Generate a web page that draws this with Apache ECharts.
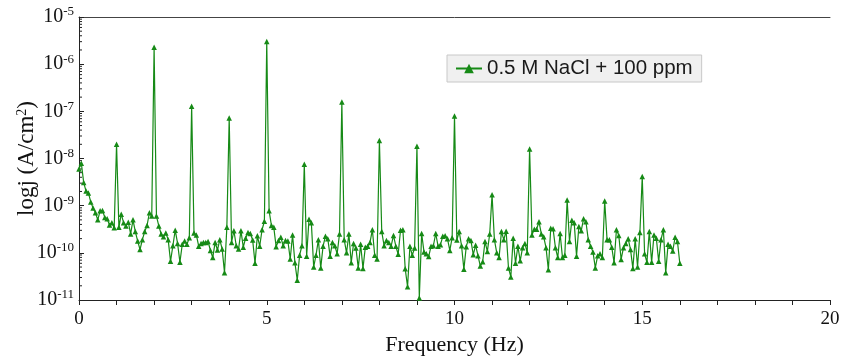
<!DOCTYPE html>
<html>
<head>
<meta charset="utf-8">
<script src="https://cdn.jsdelivr.net/npm/echarts@6/dist/echarts.min.js"></script>
<style>
  html, body { margin: 0; padding: 0; background: #fff; }
  #chart { width: 844px; height: 356px; }
</style>
</head>
<body>
<div id="chart"></div>
<script>
// Spectrum of the current noise: log10 of current density (A/cm^2),
// sampled every 1/16 Hz from 0 to 16 Hz, stored in 4 Hz blocks.
const df = 1 / 16;
const seriesName = '0.5 M NaCl + 100 ppm';

// 0 – 3.9375 Hz
const logJ_0to4 = [
  -8.22, -8.10, -8.51, -8.69, -8.73, -8.92, -9.05, -9.15, -9.30, -9.11, -9.10, -9.25, -9.28, -9.41, -9.36, -9.47,
  -7.70, -9.46, -9.18, -9.36, -9.43, -9.35, -9.60, -9.30, -9.55, -9.75, -9.93, -9.72, -9.55, -9.42, -9.15, -9.22,
  -5.64, -9.22, -9.43, -9.60, -9.66, -9.58, -9.72, -10.18, -9.85, -9.52, -9.80, -10.20, -9.82, -9.75, -9.82, -9.68,
  -6.89, -9.58, -9.62, -9.86, -9.80, -9.78, -9.78, -9.76, -9.95, -10.10, -9.78, -9.94, -9.72, -9.92, -10.42, -9.46
];
// 4 – 7.9375 Hz
const logJ_4to8 = [
  -7.14, -9.78, -9.53, -9.85, -9.92, -9.53, -9.88, -9.69, -9.57, -9.59, -9.73, -10.22, -9.64, -9.86, -9.51, -9.33,
  -5.52, -9.11, -9.42, -9.46, -9.87, -9.74, -9.67, -9.85, -9.74, -9.75, -10.13, -9.62, -10.21, -10.58, -10.05, -9.85,
  -8.12, -10.07, -9.29, -9.36, -10.30, -10.05, -9.72, -10.32, -9.86, -9.65, -9.70, -10.07, -9.78, -9.85, -10.02, -9.60,
  -6.80, -9.72, -10.00, -9.60, -10.21, -9.80, -9.90, -10.32, -9.82, -10.33, -9.88, -9.86, -9.78, -9.51, -10.05, -10.13
];
// 8 – 11.9375 Hz
const logJ_8to12 = [
  -7.62, -9.55, -9.85, -9.74, -9.78, -9.86, -9.63, -9.86, -10.03, -9.52, -9.51, -10.34, -10.72, -9.86, -10.05, -9.90,
  -7.74, -10.96, -9.59, -9.98, -10.02, -10.08, -9.86, -9.85, -9.59, -9.86, -9.83, -9.65, -9.64, -9.70, -9.95, -9.68,
  -7.10, -9.73, -9.55, -9.85, -10.35, -9.87, -9.70, -9.74, -10.04, -9.84, -10.06, -10.28, -10.19, -9.76, -9.97, -9.60,
  -8.77, -9.72, -10.00, -10.10, -9.55, -9.72, -9.54, -10.32, -10.51, -9.69, -10.22, -9.86, -10.17, -9.89, -9.80, -10.00
];
// 12 – 16 Hz
const logJ_12to16 = [
  -7.80, -9.62, -9.50, -9.50, -9.34, -9.60, -9.66, -9.89, -10.36, -9.48, -9.49, -9.89, -10.10, -9.59, -10.10, -10.05,
  -8.88, -9.76, -9.31, -9.36, -10.07, -9.44, -9.53, -9.28, -9.34, -9.72, -9.86, -9.98, -10.32, -10.06, -10.02, -10.10,
  -8.90, -9.72, -9.72, -9.88, -10.21, -9.51, -9.63, -10.14, -9.89, -9.80, -9.70, -9.93, -10.33, -9.70, -10.30, -9.57,
  -8.38, -10.02, -10.20, -9.55, -10.20, -9.62, -9.69, -10.18, -9.72, -9.51, -10.42, -9.82, -9.86, -9.96, -9.67, -9.76,
  -10.22
];

const logJ = [].concat(logJ_0to4, logJ_4to8, logJ_8to12, logJ_12to16);
const points = logJ.map((lj, i) => [i * df, Math.pow(10, lj)]);

// log-axis minor tick positions (2..9 x 10^n)
const minorTickValues = [];
for (let n = -11; n < -5; n++) {
  for (let m = 2; m <= 9; m++) minorTickValues.push([0, m * Math.pow(10, n)]);
}

const serif = 'Liberation Serif';
const green = '#168a16';

const chart = echarts.init(document.getElementById('chart'), null, { renderer: 'canvas' });
chart.setOption({
  animation: false,
  backgroundColor: '#ffffff',
  grid: { left: 79, right: 14, top: 17, bottom: 56, containLabel: false, outerBoundsMode: 'none' },
  legend: {
    data: [seriesName],
    left: 447,
    top: 55,
    padding: [3, 9, 3, 8],
    backgroundColor: '#f0f0f0',
    borderColor: '#c8c8c8',
    borderWidth: 1,
    borderRadius: 0,
    itemWidth: 26,
    itemHeight: 12,
    itemGap: 6,
    textStyle: { fontFamily: 'Liberation Sans', fontSize: 20.5, color: '#1a1a1a' }
  },
  xAxis: [{
    type: 'value',
    min: 0, max: 20, interval: 1,
    name: 'Frequency (Hz)',
    nameLocation: 'middle',
    nameGap: 34,
    nameMoveOverlap: false,
    nameTextStyle: { fontFamily: serif, fontSize: 22, color: '#111' },
    axisLine: { show: true, lineStyle: { color: '#222', width: 1 } },
    axisTick: { show: true, inside: false, length: 5, lineStyle: { color: '#222' } },
    axisLabel: {
      fontFamily: serif, fontSize: 19, color: '#111', margin: 10,
      formatter: v => (v % 5 === 0 ? String(v) : '')
    },
    splitLine: { show: false }
  }, {
    type: 'value', position: 'top',
    min: 0, max: 20,
    axisLine: { show: true, lineStyle: { color: '#444', width: 1 } },
    axisTick: { show: false }, axisLabel: { show: false }, splitLine: { show: false }
  }],
  yAxis: {
    type: 'log',
    logBase: 10,
    min: 1e-11, max: 1e-5,
    splitNumber: 6,
    name: 'logj (A/cm{s|2})',
    nameLocation: 'middle',
    nameGap: 40,
    nameMoveOverlap: false,
    nameTextStyle: {
      fontFamily: serif, fontSize: 23, color: '#111',
      rich: { s: { fontFamily: serif, fontSize: 14, color: '#111', verticalAlign: 'top', padding: [0, 0, 10, 0] } }
    },
    axisLine: { show: true, lineStyle: { color: '#222', width: 1 } },
    axisTick: { show: true, inside: true, length: 5, lineStyle: { color: '#222' } },
    axisLabel: {
      margin: 5,
      formatter: v => '{b|10}{s|' + Math.round(Math.log10(v)) + '}',
      rich: {
        b: { fontFamily: serif, fontSize: 20, color: '#111' },
        s: { fontFamily: serif, fontSize: 13, color: '#111', verticalAlign: 'top', padding: [0, 0, 10, 0] }
      }
    },
    splitLine: { show: false }
  },
  series: [{
    name: seriesName,
    type: 'line',
    data: points,
    symbol: 'triangle',
    symbolSize: 5.5,
    showSymbol: true,
    itemStyle: { color: green },
    lineStyle: { color: green, width: 1.2 },
    z: 3
  }, {
    name: 'minorTicks',
    type: 'custom',
    data: minorTickValues,
    silent: true,
    renderItem: (params, api) => {
      const p = api.coord([api.value(0), api.value(1)]);
      return {
        type: 'line',
        shape: { x1: p[0], y1: p[1], x2: p[0] + 3, y2: p[1] },
        style: { stroke: '#222', lineWidth: 1 }
      };
    },
    z: 2
  }]
});
</script>
</body>
</html>
